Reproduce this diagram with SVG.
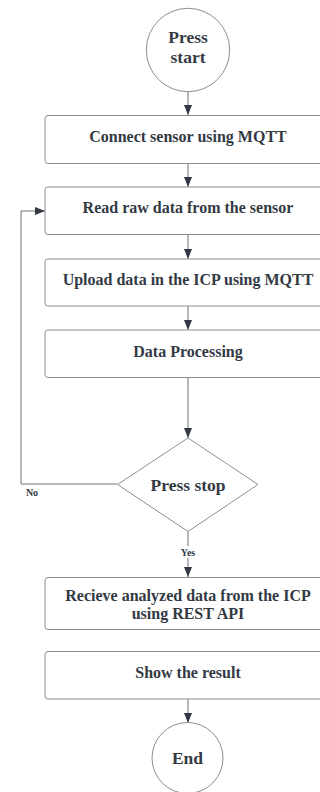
<svg xmlns="http://www.w3.org/2000/svg" width="320" height="792" viewBox="0 0 320 792">
<defs>
<style>
.n{fill:#ffffff;stroke:#8a8f96;stroke-width:1}
.t{font-family:"Liberation Serif","Times New Roman",serif;font-weight:bold;font-size:16px;fill:#333a44;text-anchor:middle}
.b{font-size:17.5px}
.s{font-family:"Liberation Serif","Times New Roman",serif;font-weight:bold;font-size:10px;fill:#333a44;text-anchor:middle}
.c{fill:none;stroke:#6b7079;stroke-width:1}
</style>
<marker id="ah" viewBox="0 0 10 10" refX="10" refY="5" markerWidth="10" markerHeight="10" markerUnits="userSpaceOnUse" orient="auto">
<path d="M0,1 L10,5 L0,9 Z" fill="#333a44"/>
</marker>
</defs>
<rect width="320" height="792" fill="#ffffff"/>
<g id="connectors">
<line class="c" x1="188" y1="92" x2="188" y2="115" marker-end="url(#ah)"/>
<line class="c" x1="188" y1="163" x2="188" y2="187" marker-end="url(#ah)"/>
<line class="c" x1="188" y1="234" x2="188" y2="259" marker-end="url(#ah)"/>
<line class="c" x1="188" y1="306" x2="188" y2="330" marker-end="url(#ah)"/>
<line class="c" x1="188" y1="377" x2="188" y2="438" marker-end="url(#ah)"/>
<polyline class="c" points="117.5,484 21,484 21,211 45,211" marker-end="url(#ah)"/>
<line class="c" x1="188" y1="532" x2="188" y2="577" marker-end="url(#ah)"/>
<line class="c" x1="188" y1="699" x2="188" y2="723" marker-end="url(#ah)"/>
<rect x="178" y="546" width="20" height="12" fill="#ffffff"/>
<text class="s" x="188" y="556">Yes</text>
<text class="s" x="32" y="496">No</text>
</g>
<g id="start">
<circle class="n" cx="188" cy="50" r="41.7"/>
<text class="t b" x="188" y="43">Press</text>
<text class="t b" x="188" y="63">start</text>
</g>
<g id="connect">
<rect class="n" x="45" y="115.5" width="286" height="48" rx="3"/>
<text class="t" x="188" y="142">Connect sensor using MQTT</text>
</g>
<g id="read">
<rect class="n" x="45" y="187" width="286" height="47.5" rx="3"/>
<text class="t" x="188" y="213">Read raw data from the sensor</text>
</g>
<g id="upload">
<rect class="n" x="45" y="259" width="286" height="47" rx="3"/>
<text class="t" x="188" y="284.5">Upload data in the ICP using MQTT</text>
</g>
<g id="process">
<rect class="n" x="45" y="330" width="286" height="47.5" rx="3"/>
<text class="t" x="188" y="357">Data Processing</text>
</g>
<g id="stop">
<polygon class="n" points="188,438 258,484.5 188,531.5 117.5,484.5"/>
<text class="t b" x="188" y="490.5">Press stop</text>
</g>
<g id="receive">
<rect class="n" x="45" y="577.5" width="286" height="52" rx="3"/>
<text class="t" x="188" y="600.5">Recieve analyzed data from the ICP</text>
<text class="t" x="188" y="619">using REST API</text>
</g>
<g id="show">
<rect class="n" x="45" y="651.5" width="286" height="47.5" rx="3"/>
<text class="t" x="188" y="678">Show the result</text>
</g>
<g id="end">
<circle class="n" cx="187.5" cy="758" r="35.5"/>
<text class="t b" x="187.5" y="763.5">End</text>
</g>
</svg>
